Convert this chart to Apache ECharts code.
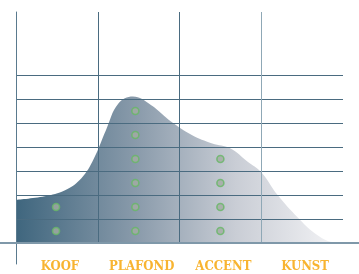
<!DOCTYPE html>
<html>
<head>
<meta charset="utf-8">
<style>
  html, body { margin: 0; padding: 0; background: #fff; }
  #chart { width: 359px; height: 274px; }
</style>
<script src="https://cdn.jsdelivr.net/npm/echarts@6/dist/echarts.min.js"></script>
</head>
<body>
<div id="chart"></div>
<script>
// categories along the bottom
const categories = ["KOOF", "PLAFOND", "ACCENT", "KUNST"];

// outline of the shaded area, [position in category units, height in grid rows]
const areaCurve = [
  [0, 1.8], [0.35, 1.95], [0.6, 2.2], [0.8, 2.7], [0.95, 3.5], [1.1, 4.7],
  [1.25, 5.8], [1.43, 6.1], [1.65, 5.75], [1.9, 5.05], [2.15, 4.5], [2.4, 4.15],
  [2.62, 3.95], [2.83, 3.4], [3.0, 2.95], [3.2, 2.0], [3.45, 1.05], [3.65, 0.42],
  [3.88, 0.03], [4, 0]
];

// green markers per column
const dotColumns = [0.49, 1.46, 2.5];
const dotHeights = [
  [1.5, 0.5],
  [5.5, 4.5, 3.5, 2.5, 1.5, 0.5],
  [3.5, 2.5, 1.5, 0.5]
];

const rowCount = 7;
const lineDark = "#4a6b80";
const lineLight = "#8fa8b6";

const dots = [];
dotColumns.forEach((x, i) => dotHeights[i].forEach(y => dots.push([x, y])));

// first row line sits on the baseline, which is drawn separately
const rowColors = ["transparent"];
for (let i = 0; i < rowCount; i++) rowColors.push(lineDark);

const chart = echarts.init(document.getElementById("chart"), null, { renderer: "canvas" });

chart.setOption({
  animation: false,
  grid: [
    { left: 16, right: 16, top: 12, bottom: 31 },   // area, dots, columns
    { left: 16, right: 16, top: 75, bottom: 31 },   // horizontal rows
    { left: 0, right: 0, top: 12, bottom: 31 },     // full-width baseline
    { left: 16, right: 16, top: 12, bottom: 10 }    // left post
  ],
  xAxis: [
    {
      gridIndex: 0, type: "category", data: categories, boundaryGap: true, z: 4,
      axisLine: { show: false }, axisTick: { show: false },
      axisLabel: {
        interval: 0, margin: 17, color: "#f8b431", fontWeight: "bold", fontSize: 13,
        fontFamily: '"DejaVu Serif Condensed", "DejaVu Serif", serif',
        padding: [0, 0, 0, 6]
      },
      splitLine: {
        show: true, interval: 0,
        lineStyle: { width: 1, color: [lineDark, lineDark, lineDark, lineLight, "transparent"] }
      }
    },
    { gridIndex: 0, type: "value", min: 0, max: 4, show: false },
    { gridIndex: 1, type: "value", min: 0, max: 4, show: false },
    {
      gridIndex: 2, type: "value", min: 0, max: 1, z: 4,
      axisLine: { show: true, lineStyle: { color: "#7f98a9", width: 2 } },
      axisTick: { show: false }, axisLabel: { show: false }, splitLine: { show: false }
    },
    { gridIndex: 3, type: "value", min: 0, max: 1, show: false }
  ],
  yAxis: [
    { gridIndex: 0, type: "value", min: 0, max: 231 / 24, show: false },
    {
      gridIndex: 1, type: "value", min: 0, max: rowCount, interval: 1, z: 4,
      axisLine: { show: false }, axisTick: { show: false }, axisLabel: { show: false },
      splitLine: { show: true, lineStyle: { width: 1, color: rowColors } }
    },
    { gridIndex: 2, type: "value", min: 0, max: 1, show: false },
    {
      gridIndex: 3, type: "value", min: 0, max: 1, z: 4,
      axisLine: { show: true, lineStyle: { color: "#5a7a8e", width: 1 } },
      axisTick: { show: false }, axisLabel: { show: false }, splitLine: { show: false }
    }
  ],
  series: [
    {
      type: "line", xAxisIndex: 1, yAxisIndex: 0, data: areaCurve,
      smooth: 0.4, symbol: "none", z: 2,
      lineStyle: { width: 0 },
      areaStyle: {
        opacity: 1,
        color: new echarts.graphic.LinearGradient(0, 0, 1, 0, [
          { offset: 0, color: "#3f667e" },
          { offset: 0.37, color: "#8a9bab" },
          { offset: 0.67, color: "#c9cdd5" },
          { offset: 1, color: "#f5f5f7" }
        ])
      }
    },
    {
      type: "scatter", xAxisIndex: 1, yAxisIndex: 0, data: dots, z: 6,
      symbol: "circle", symbolSize: 7,
      itemStyle: { color: "#a4aba4", borderColor: "#66b865", borderWidth: 1.6 }
    }
  ]
});
</script>
</body>
</html>
